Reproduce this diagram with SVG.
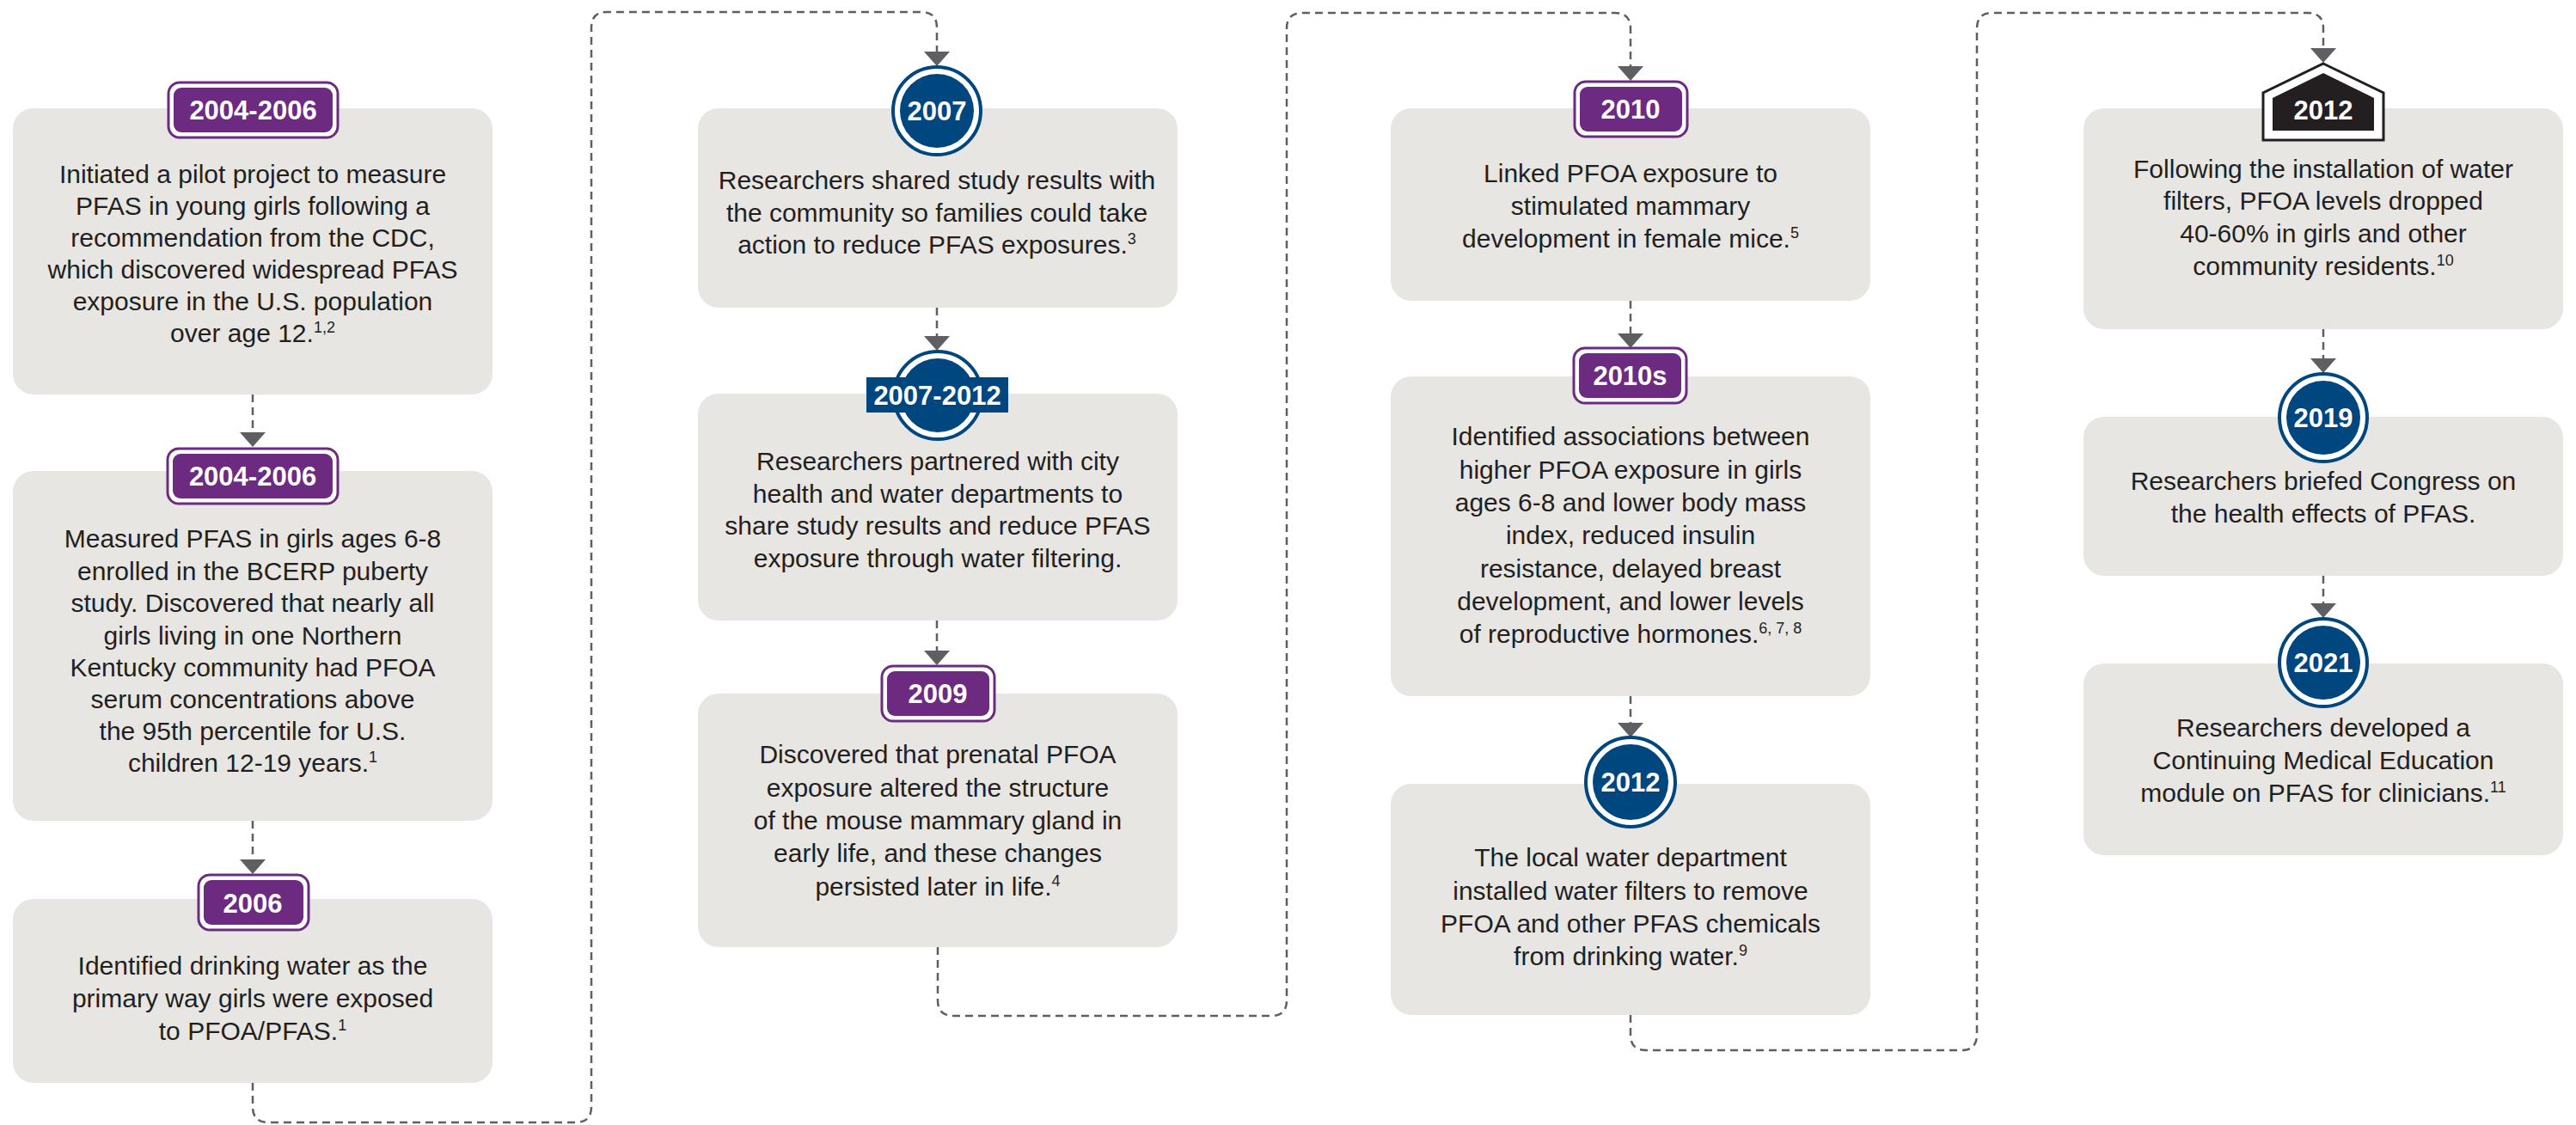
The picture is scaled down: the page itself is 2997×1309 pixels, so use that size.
<svg xmlns="http://www.w3.org/2000/svg" width="2997" height="1309" viewBox="0 0 2997 1309">
<style>
.box{fill:#e7e6e3}
.t{font-family:"Liberation Sans",Arial,sans-serif;font-size:30px;fill:#231f20;text-anchor:middle}
.sup{font-size:18px}
.yr{font-family:"Liberation Sans",Arial,sans-serif;font-size:31px;font-weight:bold;fill:#ffffff;text-anchor:middle}
.pO{fill:#ffffff;stroke:#6c2a80;stroke-width:3}
.pI{fill:#6c2a80}
.cO{fill:#ffffff;stroke:#00467f;stroke-width:4}
.cI{fill:#00467f}
.dash{fill:none;stroke:#5e5f62;stroke-width:2.5;stroke-dasharray:9 6}
.ah{fill:#5e5f62}
</style>
<defs>
<path id="ar" class="ah" d="M-15,0 L15,0 L0,17 Z"/>
</defs>
<g id="connectors">
<path class="dash" d="M294,459 V503"/>
<use href="#ar" x="294" y="503"/>
<path class="dash" d="M294,955 V1000"/>
<use href="#ar" x="294" y="1000"/>
<path class="dash" d="M294,1260 V1288 Q294,1306 312,1306 H670 Q688,1306 688,1288 V32 Q688,14 706,14 H1072 Q1090,14 1090,32 V60"/>
<use href="#ar" x="1090" y="60"/>
<path class="dash" d="M1090,358 V391"/>
<use href="#ar" x="1090" y="391"/>
<path class="dash" d="M1090,722 V757"/>
<use href="#ar" x="1090" y="757"/>
<path class="dash" d="M1091,1102 V1164 Q1091,1182 1109,1182 H1479 Q1497,1182 1497,1164 V33 Q1497,15 1515,15 H1879 Q1897,15 1897,33 V77"/>
<use href="#ar" x="1897" y="77"/>
<path class="dash" d="M1897,350 V388"/>
<use href="#ar" x="1897" y="388"/>
<path class="dash" d="M1897,810 V841"/>
<use href="#ar" x="1897" y="841"/>
<path class="dash" d="M1897,1181 V1204 Q1897,1222 1915,1222 H2282 Q2300,1222 2300,1204 V33 Q2300,15 2318,15 H2685 Q2703,15 2703,33 V56"/>
<use href="#ar" x="2703" y="56"/>
<path class="dash" d="M2703,383 V417"/>
<use href="#ar" x="2703" y="417"/>
<path class="dash" d="M2703,670 V702"/>
<use href="#ar" x="2703" y="702"/>
</g>
<g id="n2004a">
<rect class="box" x="15" y="126" width="558" height="333" rx="24"/>
<rect class="pO" x="196" y="96" width="197" height="64" rx="13"/>
<rect class="pI" x="202" y="102" width="185" height="52" rx="9"/>
<text class="yr" x="294.5" y="139">2004-2006</text>
<text class="t" x="294" y="213">Initiated a pilot project to measure</text>
<text class="t" x="294" y="250">PFAS in young girls following a</text>
<text class="t" x="294" y="287">recommendation from the CDC,</text>
<text class="t" x="294" y="324">which discovered widespread PFAS</text>
<text class="t" x="294" y="361">exposure in the U.S. population</text>
<text class="t" x="294" y="398">over age 12.<tspan class="sup" dy="-11">1,2</tspan></text>
</g>
<g id="n2004b">
<rect class="box" x="15" y="548" width="558" height="407" rx="24"/>
<rect class="pO" x="195" y="522" width="198" height="64" rx="13"/>
<rect class="pI" x="201" y="528" width="186" height="52" rx="9"/>
<text class="yr" x="294" y="565">2004-2006</text>
<text class="t" x="294" y="637">Measured PFAS in girls ages 6-8</text>
<text class="t" x="294" y="675">enrolled in the BCERP puberty</text>
<text class="t" x="294" y="712">study. Discovered that nearly all</text>
<text class="t" x="294" y="750">girls living in one Northern</text>
<text class="t" x="294" y="787">Kentucky community had PFOA</text>
<text class="t" x="294" y="824">serum concentrations above</text>
<text class="t" x="294" y="861">the 95th percentile for U.S.</text>
<text class="t" x="294" y="898">children 12-19 years.<tspan class="sup" dy="-11">1</tspan></text>
</g>
<g id="n2006">
<rect class="box" x="15" y="1046" width="558" height="214" rx="24"/>
<rect class="pO" x="231" y="1018" width="128" height="64" rx="13"/>
<rect class="pI" x="237" y="1024" width="116" height="52" rx="9"/>
<text class="yr" x="294" y="1062">2006</text>
<text class="t" x="294" y="1134">Identified drinking water as the</text>
<text class="t" x="294" y="1172">primary way girls were exposed</text>
<text class="t" x="294" y="1210">to PFOA/PFAS.<tspan class="sup" dy="-11">1</tspan></text>
</g>
<g id="n2007">
<rect class="box" x="812" y="126" width="558" height="232" rx="24"/>
<circle class="cO" cx="1090" cy="129" r="51"/>
<circle class="cI" cx="1090" cy="129" r="43"/>
<text class="yr" x="1090" y="140">2007</text>
<text class="t" x="1090" y="220">Researchers shared study results with</text>
<text class="t" x="1090" y="258">the community so families could take</text>
<text class="t" x="1090" y="295">action to reduce PFAS exposures.<tspan class="sup" dy="-11">3</tspan></text>
</g>
<g id="n2007-2012">
<rect class="box" x="812" y="458" width="558" height="264" rx="24"/>
<circle class="cO" cx="1091" cy="460" r="51"/>
<circle class="cI" cx="1091" cy="460" r="43"/>
<rect class="cI" x="1008" y="439" width="165" height="41"/>
<text class="yr" x="1090.5" y="471">2007-2012</text>
<text class="t" x="1091" y="547">Researchers partnered with city</text>
<text class="t" x="1091" y="585">health and water departments to</text>
<text class="t" x="1091" y="622">share study results and reduce PFAS</text>
<text class="t" x="1091" y="660">exposure through water filtering.</text>
</g>
<g id="n2009">
<rect class="box" x="812" y="807" width="558" height="295" rx="24"/>
<rect class="pO" x="1026" y="775" width="131" height="64" rx="13"/>
<rect class="pI" x="1032" y="781" width="119" height="52" rx="9"/>
<text class="yr" x="1091" y="818">2009</text>
<text class="t" x="1091" y="888">Discovered that prenatal PFOA</text>
<text class="t" x="1091" y="927">exposure altered the structure</text>
<text class="t" x="1091" y="965">of the mouse mammary gland in</text>
<text class="t" x="1091" y="1003">early life, and these changes</text>
<text class="t" x="1091" y="1042">persisted later in life.<tspan class="sup" dy="-11">4</tspan></text>
</g>
<g id="n2010">
<rect class="box" x="1618" y="126" width="558" height="224" rx="24"/>
<rect class="pO" x="1832" y="95" width="131" height="64" rx="13"/>
<rect class="pI" x="1838" y="101" width="119" height="52" rx="9"/>
<text class="yr" x="1897" y="138">2010</text>
<text class="t" x="1897" y="212">Linked PFOA exposure to</text>
<text class="t" x="1897" y="250">stimulated mammary</text>
<text class="t" x="1897" y="288">development in female mice.<tspan class="sup" dy="-11">5</tspan></text>
</g>
<g id="n2010s">
<rect class="box" x="1618" y="438" width="558" height="372" rx="24"/>
<rect class="pO" x="1831" y="405" width="131" height="64" rx="13"/>
<rect class="pI" x="1837" y="411" width="119" height="52" rx="9"/>
<text class="yr" x="1896.5" y="448">2010s</text>
<text class="t" x="1897" y="518">Identified associations between</text>
<text class="t" x="1897" y="557">higher PFOA exposure in girls</text>
<text class="t" x="1897" y="595">ages 6-8 and lower body mass</text>
<text class="t" x="1897" y="633">index, reduced insulin</text>
<text class="t" x="1897" y="672">resistance, delayed breast</text>
<text class="t" x="1897" y="710">development, and lower levels</text>
<text class="t" x="1897" y="748">of reproductive hormones.<tspan class="sup" dy="-11">6, 7, 8</tspan></text>
</g>
<g id="n2012a">
<rect class="box" x="1618" y="912" width="558" height="269" rx="24"/>
<circle class="cO" cx="1897" cy="910" r="52"/>
<circle class="cI" cx="1897" cy="910" r="44"/>
<text class="yr" x="1897" y="921">2012</text>
<text class="t" x="1897" y="1008">The local water department</text>
<text class="t" x="1897" y="1047">installed water filters to remove</text>
<text class="t" x="1897" y="1085">PFOA and other PFAS chemicals</text>
<text class="t" x="1897" y="1123">from drinking water.<tspan class="sup" dy="-11">9</tspan></text>
</g>
<g id="n2012b">
<rect class="box" x="2424" y="126" width="558" height="257" rx="24"/>
<path d="M2703,74 L2773,108 L2773,163 L2633,163 L2633,108 Z" fill="#ffffff" stroke="#231f20" stroke-width="3" stroke-linejoin="miter"/>
<path d="M2703,85 L2762,114 L2762,152 L2644,152 L2644,114 Z" fill="#231f20"/>
<text class="yr" x="2703" y="139">2012</text>
<text class="t" x="2703" y="207">Following the installation of water</text>
<text class="t" x="2703" y="244">filters, PFOA levels dropped</text>
<text class="t" x="2703" y="282">40-60% in girls and other</text>
<text class="t" x="2703" y="320">community residents.<tspan class="sup" dy="-11">10</tspan></text>
</g>
<g id="n2019">
<rect class="box" x="2424" y="485" width="558" height="185" rx="24"/>
<circle class="cO" cx="2703" cy="486" r="51"/>
<circle class="cI" cx="2703" cy="486" r="43"/>
<text class="yr" x="2703" y="497">2019</text>
<text class="t" x="2703" y="570">Researchers briefed Congress on</text>
<text class="t" x="2703" y="608">the health effects of PFAS.</text>
</g>
<g id="n2021">
<rect class="box" x="2424" y="772" width="558" height="223" rx="24"/>
<circle class="cO" cx="2703" cy="771" r="51"/>
<circle class="cI" cx="2703" cy="771" r="43"/>
<text class="yr" x="2703" y="782">2021</text>
<text class="t" x="2703" y="857">Researchers developed a</text>
<text class="t" x="2703" y="895">Continuing Medical Education</text>
<text class="t" x="2703" y="933">module on PFAS for clinicians.<tspan class="sup" dy="-11">11</tspan></text>
</g>
</svg>
